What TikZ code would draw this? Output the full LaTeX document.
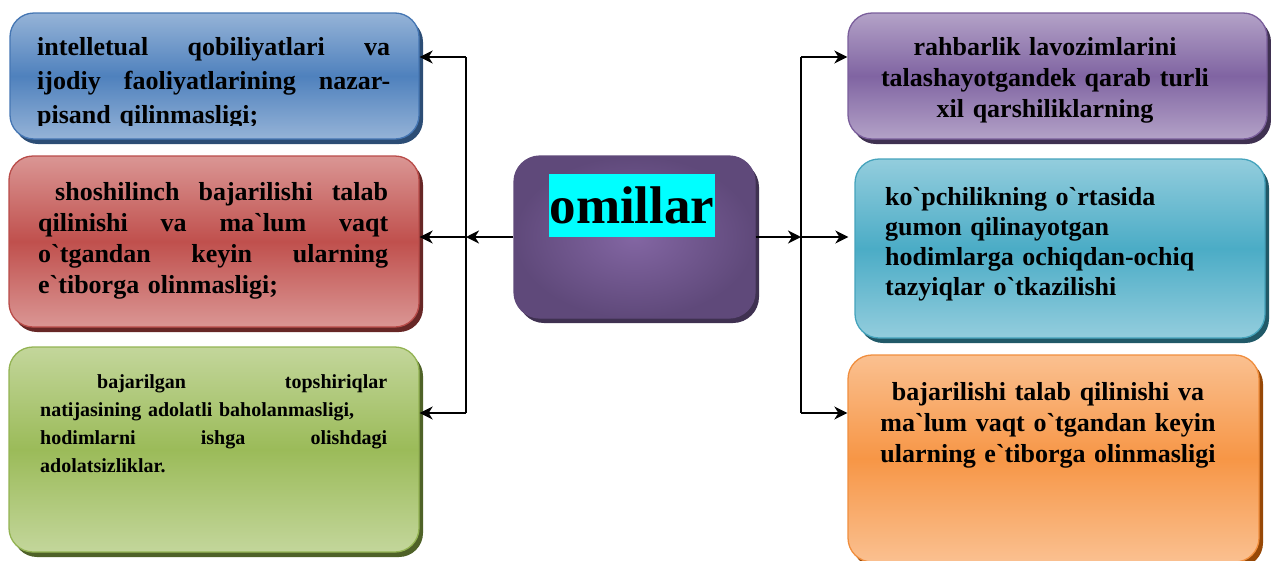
\documentclass[tikz,border=0pt]{standalone}
\usepackage{fontspec}
\setmainfont{Liberation Serif}[Ligatures=TeXOff]
\usetikzlibrary{arrows.meta,shadows}

% panel palettes: light edge, saturated middle, outline, shadow
\definecolor{blueL}{HTML}{95B3D7}\definecolor{blueM}{HTML}{4F81BD}\definecolor{blueB}{HTML}{4576B3}\definecolor{blueS}{HTML}{2C4D75}
\definecolor{redL}{HTML}{DA9694}\definecolor{redM}{HTML}{C0504D}\definecolor{redB}{HTML}{B94C49}\definecolor{redS}{HTML}{672726}
\definecolor{grnL}{HTML}{C3D69B}\definecolor{grnM}{HTML}{9BBB59}\definecolor{grnB}{HTML}{93B353}\definecolor{grnS}{HTML}{4F6228}
\definecolor{purL}{HTML}{B3A2C7}\definecolor{purM}{HTML}{8064A2}\definecolor{purB}{HTML}{7A5E9B}\definecolor{purS}{HTML}{3F3151}
\definecolor{tealL}{HTML}{93CDDD}\definecolor{tealM}{HTML}{4BACC6}\definecolor{tealB}{HTML}{45A3BC}\definecolor{tealS}{HTML}{215968}
\definecolor{orL}{HTML}{FAC090}\definecolor{orM}{HTML}{F79646}\definecolor{orB}{HTML}{F08E3E}\definecolor{orS}{HTML}{974806}
\definecolor{ctrIn}{HTML}{8366A3}\definecolor{ctrOut}{HTML}{5F497A}\definecolor{ctrS}{HTML}{3F3151}
\definecolor{hilite}{HTML}{00FFFF}

\tikzset{
  panel/.style={rectangle, rounded corners=24pt, inner sep=0pt, line width=1.3pt},
  boxstyle/.style n args={4}{panel, top color=#1, bottom color=#1, middle color=#2, draw=#3,
    general shadow={fill=#4, shadow xshift=4pt, shadow yshift=-5pt}},
  txt/.style={inner sep=0pt, font=\bfseries},
  arr/.style={-{Stealth[length=13pt,width=13pt,inset=4pt]}, line width=2pt},
  trunk/.style={line width=2pt},
}

\begin{document}
\begin{tikzpicture}[x=1pt,y=-1pt]
\useasboundingbox (0,0) rectangle (1271,560);

% left column
\node[boxstyle={blueL}{blueM}{blueB}{blueS}, minimum width=409pt, minimum height=126pt] (blue) at (214.5,76) {};
\node[boxstyle={redL}{redM}{redB}{redS}, minimum width=410pt, minimum height=171pt] (red) at (214,241.5) {};
\node[boxstyle={grnL}{grnM}{grnB}{grnS}, minimum width=410pt, minimum height=205pt] (green) at (214,449.5) {};

% right column
\node[boxstyle={purL}{purM}{purB}{purS}, minimum width=419pt, minimum height=126pt] (rtop) at (1057.5,76) {};
\node[boxstyle={tealL}{tealM}{tealB}{tealS}, minimum width=410pt, minimum height=179pt] (teal) at (1060,248.5) {};
\node[boxstyle={orL}{orM}{orB}{orS}, minimum width=411pt, minimum height=207pt] (orange) at (1053.5,458.5) {};

% central box
\node[panel, rounded corners=26pt, shading=radial, inner color=ctrIn, outer color=ctrOut, draw=ctrOut,
  general shadow={fill=ctrS, shadow xshift=4pt, shadow yshift=-5pt},
  minimum width=241pt, minimum height=162pt] (ctr) at (634.5,237) {};
\node[inner sep=0pt, fill=hilite, font=\fontsize{53}{60}\selectfont\bfseries,
  text height=49pt, text depth=14pt, minimum width=166pt] (ttl) at (632,205.5) {omillar};

% texts, left column (justified lines spread with \hfill)
\begin{scope}
  \clip (10,13) rectangle (419,125);
  \node[txt, font=\fontsize{26}{34}\selectfont\bfseries, text width=353pt, align=left, anchor=north west]
    (tblue) at (37,31.2)
    {\strut\makebox[353pt]{intelletual\hfill qobiliyatlari\hfill va}\\
     \makebox[353pt]{ijodiy\hfill faoliyatlarining\hfill nazar-}\\
     pisand qilinmasligi;};
\end{scope}

\node[txt, font=\fontsize{26}{31}\selectfont\bfseries, text width=350pt, align=left, anchor=north west]
  (tred) at (38,178.3)
  {\strut\hspace*{17pt}\makebox[333pt]{shoshilinch\hfill bajarilishi\hfill talab}\\
   \makebox[350pt]{qilinishi\hfill va\hfill ma`lum\hfill vaqt}\\
   \makebox[350pt]{o`tgandan\hfill keyin\hfill ularning}\\
   e`tiborga olinmasligi;};

\node[txt, font=\fontsize{20}{28}\selectfont\bfseries, text width=347pt, align=left, anchor=north west]
  (tgreen) at (40,368.4)
  {\strut\hspace*{57pt}\makebox[290pt]{bajarilgan\hfill topshiriqlar}\\
   natijasining adolatli baholanmasligi,\\
   \makebox[347pt]{hodimlarni\hfill ishga\hfill olishdagi}\\
   adolatsizliklar.};

% texts, right column
\node[txt, font=\fontsize{26}{31}\selectfont\bfseries, text width=380pt, align=center, anchor=north]
  (trtop) at (1045,33.3)
  {\strut rahbarlik lavozimlarini\\
   talashayotgandek qarab turli\\
   xil qarshiliklarning};

\node[txt, font=\fontsize{26}{30}\selectfont\bfseries, text width=370pt, align=left, anchor=north west]
  (tteal) at (885,184)
  {\strut ko`pchilikning o`rtasida\\
   gumon qilinayotgan\\
   hodimlarga ochiqdan-ochiq\\
   tazyiqlar o`tkazilishi};

\node[txt, font=\fontsize{26}{31}\selectfont\bfseries, text width=380pt, align=center, anchor=north]
  (torange) at (1048,378.3)
  {\strut bajarilishi talab qilinishi va\\
   ma`lum vaqt o`tgandan keyin\\
   ularning e`tiborga olinmasligi};

% connectors, left side
\coordinate (lj) at (466,237);
\coordinate (ltop) at (466,57);
\coordinate (lbot) at (466,413);
\draw[trunk] (ltop) -- (lbot);
\draw[arr] (ctr.west) -- (lj);
\draw[arr] (ltop) -- (ltop -| blue.east);
\draw[arr] (lj) -- (lj -| red.east);
\draw[arr] (lbot) -- (lbot -| green.east);

% connectors, right side
\coordinate (rj) at (801,237);
\coordinate (rtopc) at (801,57);
\coordinate (rbot) at (801,413);
\draw[trunk] (rtopc) -- (rbot);
\draw[arr] (ctr.east) -- (rj);
\draw[arr] (rtopc) -- (rtopc -| rtop.west);
\draw[arr, shorten >=6pt] (rj) -- (rj -| teal.west);
\draw[arr] (rbot) -- (rbot -| orange.west);
\end{tikzpicture}
\end{document}
